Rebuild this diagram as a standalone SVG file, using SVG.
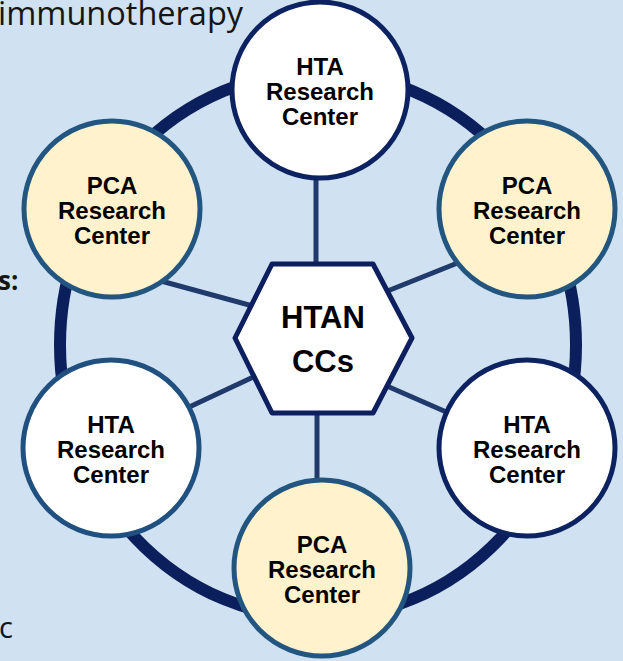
<svg xmlns="http://www.w3.org/2000/svg" width="623" height="661" viewBox="0 0 623 661">
<style>
.bg{fill:#d0e2f2}
.ring{fill:none;stroke:#0b1f5c;stroke-width:12}
.spoke{stroke:#1f3a6b;stroke-width:5;fill:none}
.hta{fill:#ffffff;stroke:#0d2260;stroke-width:5}
.hta2{fill:#ffffff;stroke:#1f5080;stroke-width:5}
.pca{fill:#fff2cc;stroke:#22557f;stroke-width:5}
.lbl{font-family:"Liberation Sans",Arial,sans-serif;font-weight:bold;font-size:24px;fill:#000;text-anchor:middle}
.hex{fill:#ffffff;stroke:#0d1f5e;stroke-width:5;stroke-linejoin:round}
.hexl{font-family:"Liberation Sans",Arial,sans-serif;font-weight:bold;font-size:31px;fill:#000;text-anchor:middle}
.side{font-family:"Open Sans","Liberation Sans",sans-serif;fill:#151515}
</style>
<rect class="bg" x="0" y="0" width="623" height="661"/>
<text class="side" x="-2" y="25" font-size="32.5">immunotherapy</text>
<text class="side" x="-2" y="290" font-size="26" font-weight="bold">s:</text>
<text class="side" x="-1" y="638" font-size="29">c</text>
<ellipse class="ring" cx="318" cy="345" rx="258" ry="273"/>
<g id="connectors">
<line class="spoke" x1="316" y1="170" x2="316" y2="270"/>
<line class="spoke" x1="317" y1="408" x2="317" y2="485"/>
<line class="spoke" x1="150" y1="278" x2="260" y2="308"/>
<line class="spoke" x1="380" y1="294" x2="460" y2="262"/>
<line class="spoke" x1="185" y1="409" x2="262" y2="373"/>
<line class="spoke" x1="380" y1="383" x2="460" y2="418"/>
</g>
<g id="hta-top">
<circle class="hta" cx="320" cy="90" r="88"/>
<text class="lbl" x="320" y="75">HTA</text>
<text class="lbl" x="320" y="100">Research</text>
<text class="lbl" x="320" y="125">Center</text>
</g>
<g id="pca-topleft">
<circle class="pca" cx="112" cy="209" r="88"/>
<text class="lbl" x="112" y="194">PCA</text>
<text class="lbl" x="112" y="219">Research</text>
<text class="lbl" x="112" y="244">Center</text>
</g>
<g id="pca-topright">
<circle class="pca" cx="527" cy="209" r="88"/>
<text class="lbl" x="527" y="194">PCA</text>
<text class="lbl" x="527" y="219">Research</text>
<text class="lbl" x="527" y="244">Center</text>
</g>
<g id="hta-left">
<circle class="hta2" cx="111" cy="448" r="88"/>
<text class="lbl" x="111" y="433">HTA</text>
<text class="lbl" x="111" y="458">Research</text>
<text class="lbl" x="111" y="483">Center</text>
</g>
<g id="hta-right">
<circle class="hta" cx="527" cy="448" r="88"/>
<text class="lbl" x="527" y="433">HTA</text>
<text class="lbl" x="527" y="458">Research</text>
<text class="lbl" x="527" y="483">Center</text>
</g>
<g id="pca-bottom">
<circle class="pca" cx="322" cy="568" r="88"/>
<text class="lbl" x="322" y="553">PCA</text>
<text class="lbl" x="322" y="578">Research</text>
<text class="lbl" x="322" y="603">Center</text>
</g>
<g id="htan-ccs">
<polygon class="hex" points="235,338 272,264 373,264 412,338 373,413 272,413"/>
<text class="hexl" x="323" y="328">HTAN</text>
<text class="hexl" x="323" y="372" font-size="33">CCs</text>
</g>
</svg>
